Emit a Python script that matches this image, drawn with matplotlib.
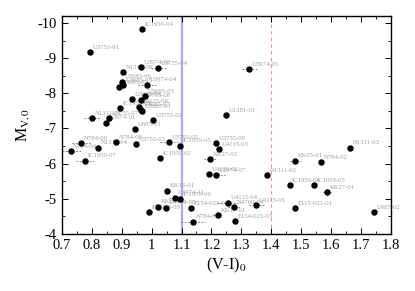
import numpy as np
import matplotlib
matplotlib.use('Agg')
import matplotlib.pyplot as plt
from matplotlib.ticker import MultipleLocator

plt.rcParams['font.family'] = ['Liberation Serif', 'DejaVu Serif']
plt.rcParams['mathtext.fontset'] = 'stix'
plt.rcParams['axes.unicode_minus'] = False

# cluster names, colour (V-I)_0, magnitude M_V,0 and colour errors
names = ['IC1959-04', 'U3755-01', 'N1311-08', 'U3974-02', 'U3755-04', 'U3974-05',
         'U3685-06', 'U3685-05', 'U3685-02', 'U3974-04', 'U3685-03', 'U3755-08',
         'U3685-04', 'IC1959-01', 'U4115-06', 'U3685-07', 'U3685-01', 'N1311-01',
         'U3755-07', 'U3974-01', 'U685-01', 'U3755-02', 'N784-09', 'N784-04',
         'N1311-04', 'N784-08', 'U3755-03', 'IC1959-07', 'IC1959-02', 'U3755-05',
         'IC1959-05', 'U1281-01', 'U3755-09', 'U4115-03', 'KK27-02', 'U4115-02',
         'U3974-07', 'N1311-02', 'KK65-01', 'N784-02', 'N1311-03', 'IC1959-06',
         'IC1959-03', 'KK27-01', 'E115-021-01', 'U685-02', 'KK16-01', 'IC1959-08',
         'KK65-02', 'U3974-08', 'U3974-11', 'IC1959-09', 'E154-023-02', 'U4115-04',
         'N4760-04', 'U4115-05', 'KK17-01', 'E154-023-03', 'N784-03']
vi = [0.968, 0.794, 0.905, 0.965, 1.022, 1.327,
      0.902, 0.905, 0.891, 0.986, 0.978, 0.965,
      0.936, 0.895, 0.958, 0.964, 0.967, 0.800,
      0.858, 0.847, 0.944, 1.006, 0.763, 0.729,
      0.822, 0.880, 0.947, 0.779, 1.029, 1.057,
      1.096, 1.249, 1.215, 1.226, 1.196, 1.193,
      1.215, 1.385, 1.481, 1.565, 1.662, 1.461,
      1.542, 1.587, 1.480, 1.744, 1.050, 0.992,
      1.022, 1.049, 1.079, 1.095, 1.132, 1.254,
      1.277, 1.350, 1.221, 1.280, 1.137]
mv = [-9.82, -9.17, -8.60, -8.74, -8.72, -8.69,
      -8.33, -8.23, -8.18, -8.25, -7.92, -7.81,
      -7.83, -7.57, -7.62, -7.54, -7.50, -7.30,
      -7.30, -7.17, -6.98, -7.23, -6.58, -6.36,
      -6.45, -6.61, -6.55, -6.08, -6.16, -6.61,
      -6.51, -7.38, -6.59, -6.41, -6.12, -5.70,
      -5.68, -5.68, -6.08, -6.05, -6.45, -5.39,
      -5.39, -5.18, -4.74, -4.62, -5.23, -4.62,
      -4.78, -4.75, -5.03, -4.99, -4.73, -4.89,
      -4.77, -4.82, -4.54, -4.37, -4.35]
vi_err = [0, 0, 0, 0, 0.025, 0.025,
          0, 0, 0, 0.03, 0, 0,
          0, 0, 0, 0, 0, 0.025,
          0, 0, 0, 0, 0.03, 0.04,
          0, 0, 0, 0.03, 0, 0.03,
          0, 0, 0, 0, 0.02, 0,
          0.03, 0, 0.02, 0, 0, 0,
          0, 0.015, 0, 0, 0, 0,
          0, 0, 0.02, 0, 0, 0.035,
          0.02, 0.025, 0.015, 0, 0.04]
mv_err = [0.1 if n == 'KK27-01' else 0 for n in names]

fig = plt.figure(figsize=(4.15, 2.91), dpi=100)
ax = fig.add_axes([0.149, 0.196, 0.793, 0.749])

ax.axvline(1.1, color='#a8aaff', lw=1.6, zorder=1)
ax.axvline(1.4, color='#ee9090', lw=0.8, ls=(0, (3, 3)), zorder=1)

eb = ax.errorbar(vi, mv, xerr=vi_err, yerr=mv_err, fmt='o', color='black',
                 ms=3.6, ecolor='#666666', elinewidth=0.6, capsize=0, zorder=3)
for line in eb[2]:
    line.set_linestyle((0, (2, 2)))

for n, x, y in zip(names, vi, mv):
    ax.annotate(n, (x, y), xytext=(2, 3.5), textcoords='offset points',
                fontsize=4.8, color='#a0a0a0', va='center', ha='left', zorder=2)

ax.set_xlim(0.7, 1.8)
ax.set_ylim(-4, -10.2)
ax.xaxis.set_major_locator(MultipleLocator(0.1))
ax.xaxis.set_minor_locator(MultipleLocator(0.05))
ax.yaxis.set_major_locator(MultipleLocator(1))
ax.yaxis.set_minor_locator(MultipleLocator(0.5))
ax.xaxis.set_major_formatter(plt.FuncFormatter(lambda v, p: ('%.1f' % v).rstrip('0').rstrip('.')))
ax.yaxis.set_major_formatter(plt.FuncFormatter(lambda v, p: '%d' % round(v)))
ax.tick_params(which='both', direction='in', top=True, right=True, labelsize=10.5)
ax.tick_params(which='major', length=4, width=0.7)
ax.tick_params(which='minor', length=2, width=0.6)
for s in ax.spines.values():
    s.set_linewidth(1.0)

ax.set_xlabel('(V-I)$_0$', fontsize=11.5, labelpad=3)
ax.set_ylabel('M$_{\\rm V,0}$', fontsize=11.5, labelpad=4)

fig.savefig('out.png', dpi=100)
